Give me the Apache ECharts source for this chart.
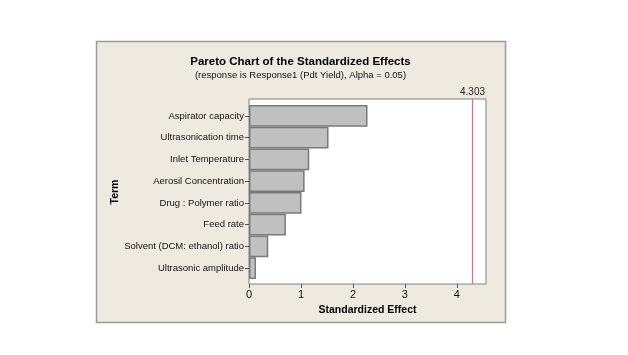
<!DOCTYPE html>
<html><head><meta charset="utf-8">
<script src="https://cdn.jsdelivr.net/npm/echarts@6/dist/echarts.min.js"></script>
<style>html,body{margin:0;padding:0;background:#fff}#c{width:628px;height:355px}</style>
</head><body><div id="c"></div>
<script>
const terms = ["Aspirator capacity","Ultrasonication time","Inlet Temperature","Aerosil Concentration","Drug : Polymer ratio","Feed rate","Solvent (DCM: ethanol) ratio","Ultrasonic amplitude"];
const effects = [2.28,1.53,1.16,1.07,1.01,0.71,0.37,0.135];
const xTicks = [0,1,2,3,4];
const xMax = 4.56;
const critical = 4.303;
const titleText = "Pareto Chart of the Standardized Effects";
const subText = "(response is Response1 (Pdt Yield), Alpha = 0.05)";

const labelFont = '"Liberation Sans",sans-serif';
const chart = echarts.init(document.getElementById('c'), null, {renderer:'canvas'});
chart.setOption({
  animation:false,
  backgroundColor:'#ffffff',
  graphic:[
    {type:'rect', z:-10, shape:{x:96.5,y:41.5,width:409,height:281}, style:{fill:'#eeeae0', stroke:'#9a9a9a', lineWidth:1.5}},
    {type:'text', z:5, style:{x:300.5, y:62, text:titleText, textAlign:'center', textVerticalAlign:'middle', font:'bold 11.5px "Liberation Sans",sans-serif', fill:'#000'}},
    {type:'text', z:5, style:{x:300.5, y:75, text:subText, textAlign:'center', textVerticalAlign:'middle', font:'9.5px '+labelFont, fill:'#111'}}
  ],
  grid:[
    {left:249, width:237, top:105, height:174, show:false},
    {left:249, width:237, top:99, height:185, show:true, backgroundColor:'#ffffff', borderColor:'#808080', borderWidth:1}
  ],
  xAxis:[
    {gridIndex:0, type:'value', min:0, max:xMax, show:false},
    {gridIndex:1, type:'value', min:0, max:xMax, interval:1,
     axisLine:{show:false}, splitLine:{show:false},
     axisLabel:{color:'#111', fontSize:11, fontFamily:labelFont, margin:5,
       customValues:xTicks, formatter:v=>xTicks.includes(v)?String(v):''},
     axisTick:{show:true, length:4, lineStyle:{color:'#555'}, customValues:xTicks},
     name:'Standardized Effect', nameLocation:'middle', nameGap:18,
     nameTextStyle:{fontWeight:'bold', fontSize:10.5, fontFamily:'"Liberation Sans",sans-serif', color:'#000'}}
  ],
  yAxis:[
    {gridIndex:0, type:'category', data:terms, inverse:true, boundaryGap:true,
     axisLine:{show:false}, splitLine:{show:false},
     axisTick:{show:true, alignWithLabel:true, length:4, lineStyle:{color:'#555'}},
     axisLabel:{color:'#111', fontSize:9.5, fontFamily:labelFont, margin:5},
     name:'Term', nameLocation:'middle', nameGap:116, nameRotate:90,
     nameTextStyle:{fontWeight:'bold', fontSize:10.5, fontFamily:'"Liberation Sans",sans-serif', color:'#000'}},
    {gridIndex:1, type:'value', min:0, max:1, show:false}
  ],
  series:[
    {type:'bar', xAxisIndex:0, yAxisIndex:0, data:effects, barCategoryGap:'0%',
     itemStyle:{color:'#c0c0c0', borderColor:'#7a7a7a', borderWidth:1.5}, z:3},
    {type:'line', xAxisIndex:1, yAxisIndex:1, data:[], symbol:'none',
     markLine:{silent:true, symbol:['none','none'],
       lineStyle:{color:'#e07080', type:'solid', width:1.2},
       label:{show:true, position:'end', formatter:String(critical), color:'#222', fontSize:10, fontFamily:labelFont, distance:2},
       data:[{xAxis:critical}]}}
  ]
});
</script></body></html>
